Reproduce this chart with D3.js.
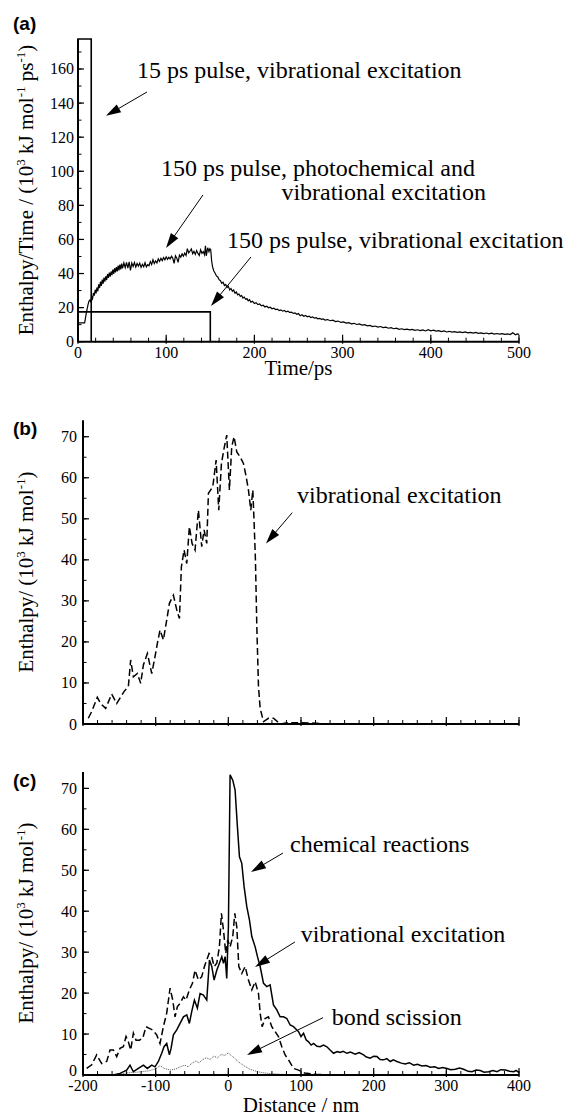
<!DOCTYPE html>
<html>
<head>
<meta charset="utf-8">
<script src="https://cdn.jsdelivr.net/npm/d3@7"></script>
<style>
  body { margin: 0; background: #fff; }
  text { font-family: "Liberation Serif", "Times New Roman", serif; fill: #000; }
</style>
</head>
<body>
<div id="root"></div>
<script>
// ---- DATA ----
// (a) enthalpy deposition rate vs time, 10^3 kJ mol^-1 ps^-1
const pulse15 = [[0, 0], [0, 180], [15, 180], [15, 0]];
const pulse150 = [[0, 17.5], [150, 17.5], [150, 0]];
const photoVib = [[0,11.1],[7.5,11.1],[8.5,14],[9.5,17],[10.5,19.5],[11.5,22],[12.5,23.8],[13.5,24.4],[14.5,23.5],[15.5,26.5],[16.5,25.2],[17.5,28.6],[18.5,27],[19.5,30.5],[20.5,28.4],[21.5,31.8],[22.5,29.6],[23.5,33.6],[24.5,31.5],[25.5,35.2],[26.5,32.8],[27.5,36.4],[28.5,34.1],[29.5,37.6],[30.5,35.3],[31.5,38.4],[32.5,36.2],[33.5,39.6],[34.5,37.4],[35.5,40.5],[36.5,38.2],[37.5,41.2],[38.5,39.1],[39.5,42.3],[40.5,39.8],[41.5,43.1],[42.5,40.6],[43.5,43.8],[44.5,41.2],[45.5,44.6],[46.5,41.8],[47.5,45.2],[48.5,42.4],[49.5,45.8],[50.5,43.0],[52,46.2],[53.5,43.4],[55,46.6],[56.5,43.1],[58,46.9],[59.5,41.9],[61,46.2],[62.5,44.1],[64,46.5],[65.5,43.8],[67,45.9],[68.5,44.4],[70,46.1],[71.5,43.6],[73,45.4],[74.5,44.0],[76,46.3],[77.5,43.9],[79,45.2],[80.5,44.6],[82,47.0],[83.5,45.3],[85,48.1],[86.5,45.9],[88,47.4],[89.5,46.2],[91,48.6],[92.5,47.1],[94,48.9],[95.5,47.6],[97,49.4],[98.5,48.0],[100,49.8],[101.5,48.3],[103,49.5],[104.5,48.6],[106,50.1],[107.5,48.9],[109,46.0],[110.5,50.4],[112,49.0],[113.5,46.5],[115,50.8],[116.5,49.6],[118,51.5],[119.5,50.2],[121,52.0],[122.5,50.6],[124,54.6],[125.5,52.1],[127,53.2],[128.5,54.4],[130,51.6],[131.5,53.0],[133,51.2],[134.5,53.5],[136,51.8],[137.5,50.6],[139,53.9],[140.5,51.9],[142,52.8],[143.5,51.0],[144.5,56.2],[145.5,50.4],[147,55.1],[148.5,52.8],[149.5,54.6],[150.5,54.0],[151.5,47.5],[152.5,44.0],[154,41.5],[155.5,40.2],[157,38.6],[158.5,38.0],[160,36.4],[161.5,35.8],[163,34.3],[164.5,34.9],[166,33.0],[167.5,33.6],[169,31.8],[170.5,32.5],[172,30.4],[173.5,31.2],[175,29.6],[176.5,30.3],[178,28.4],[179.5,29.1],[181,27.5],[182.5,28.0],[184,26.6],[185.5,27.1],[187,25.6],[188.5,26.2],[190,24.9],[191.5,25.3],[193,24.0],[194.5,24.6],[196,23.2],[198,23.7],[200,22.4],[202,22.9],[204,21.8],[206,22.1],[208,21.0],[210,21.4],[212,20.4],[214,20.8],[216,19.9],[218,20.2],[220,19.3],[222,19.7],[224,18.9],[226,19.1],[228,18.3],[230,18.7],[232,17.9],[234,18.3],[236,17.5],[238,17.9],[240,17.2],[242,17.4],[244,16.6],[246,16.9],[248,16.1],[250,16.5],[252,15.2],[254,15.8],[256,14.9],[258,15.4],[260,14.6],[262,15.0],[264,14.2],[266,14.5],[268,13.9],[270,14.1],[272,13.4],[274,13.7],[276,13.1],[278,13.4],[280,12.7],[283,13.0],[286,12.3],[289,12.6],[292,11.8],[295,12.1],[298,11.3],[301,11.6],[304,10.9],[307,11.2],[310,10.5],[313,10.8],[316,10.1],[319,10.4],[322,9.7],[325,10.0],[328,9.3],[331,9.6],[334,8.9],[337,9.2],[340,8.6],[343,8.9],[346,8.3],[349,8.5],[352,7.9],[355,8.2],[358,7.6],[361,7.9],[364,7.3],[367,7.6],[370,7.1],[373,7.4],[376,6.9],[379,7.2],[382,6.7],[385,7.0],[388,6.5],[391,6.9],[394,6.3],[397,7.1],[400,6.4],[403,6.8],[406,6.2],[409,6.5],[412,5.9],[415,6.3],[418,5.7],[421,6.1],[424,5.6],[427,5.9],[430,5.5],[433,5.8],[436,5.3],[439,5.7],[442,5.2],[445,5.5],[448,5.0],[451,5.4],[454,4.9],[457,5.2],[460,4.8],[463,5.1],[466,4.6],[469,5.0],[472,4.5],[475,4.8],[478,4.4],[481,4.7],[484,4.3],[487,4.6],[490,4.2],[493,5.3],[496,4.1],[498,4.6],[500,4.3]];

// (b) enthalpy vs distance, vibrational excitation only
const vibB = [[-192.7,1.4],[-188.1,3.0],[-180.3,6.5],[-175.7,5.0],[-168.8,3.8],[-160.5,7.3],[-153.6,5.0],[-143.6,7.9],[-137.6,9.1],[-134.4,15.6],[-130.7,11.5],[-125.2,12.3],[-120.6,9.9],[-116.9,14.4],[-111.4,17.2],[-105.4,12.3],[-100.9,16.4],[-97.6,19.7],[-94,22.9],[-89.4,20.5],[-84.8,25.3],[-81.1,29.4],[-75.6,31.4],[-71,27.8],[-67.3,25.7],[-64.6,38.3],[-60.9,42.4],[-57.2,39.1],[-53.6,48.1],[-49.9,44],[-45.8,42.4],[-41.2,52.1],[-36.6,43.2],[-33.4,47.3],[-29.7,44],[-27.4,56.2],[-21.4,57.8],[-16.8,64.3],[-13.2,52.1],[-9.5,63.5],[-5.8,67.2],[-2.2,70.4],[1.5,57],[4.7,67.6],[7.9,70],[11.6,66.3],[16.2,65.1],[20.8,63.5],[24.5,60.3],[27.7,57],[30.9,52.1],[33.7,57],[35.5,48.9],[37.3,40],[39.2,23.7],[41.5,9.1],[43.8,3.8],[48.4,0.6],[55.2,1.4],[62.1,1.4],[71.3,0],[80.5,0.3],[98.8,0.3],[121.8,0.2],[135.6,0]];

// (c) enthalpy vs distance by channel
const chemC = [[-200,0],[-158.2,0],[-149.1,0.4],[-139.9,1.2],[-135.3,2.4],[-130.7,0.8],[-123.8,1.6],[-116.9,2.4],[-111.4,1.6],[-105.4,2.4],[-100.9,2.0],[-96.3,3.3],[-91.7,5.3],[-88.5,6.9],[-84.8,7.7],[-81.1,4.9],[-78.8,6.5],[-75.6,9.8],[-71,11],[-66.4,12.6],[-61.8,14.2],[-57.2,14.7],[-53.6,12.6],[-50.4,15.5],[-46.7,18.3],[-42.6,16.3],[-38.9,19.9],[-34.3,19.5],[-29.7,18.3],[-26,28.1],[-22.8,26.5],[-19.6,23.2],[-15.9,25.6],[-12.3,27.3],[-9,28.9],[-6.7,27.3],[-4.4,28.9],[-2.2,23.6],[0.1,36.2],[2.4,73.3],[6.1,72],[9.3,69.6],[12.5,60.6],[15.3,53.3],[18.5,51.7],[21.7,46],[25.4,41.1],[29.1,37.8],[32.3,33.8],[36.9,31.3],[40.1,28.9],[43.8,26.5],[48.4,22.4],[52.9,21.6],[57.5,22],[62.1,17.1],[66.7,15.9],[71.3,14.2],[75.9,14.2],[80.5,13.8],[85.1,12.2],[89.7,11.8],[94.3,11],[96.6,10.6],[100,9.4],[103.5,10.2],[107,8.6],[110.4,8.1],[114,7.3],[117.3,7.7],[122,7.0],[126.4,6.9],[131,7.3],[135.6,6.9],[140,6.1],[144.8,5.3],[150,5.7],[154,5.5],[158,5.8],[163.2,5.3],[168,5.6],[174.6,5.1],[180,5.5],[186.1,4.9],[190,4.4],[195.3,4.1],[200,4.6],[204.5,4.5],[209,3.8],[213.7,3.7],[218,4.0],[222.9,3.3],[227,3.7],[232,3.3],[238,2.9],[243.5,2.7],[249,3.0],[255,2.4],[260,2.6],[266.5,2.2],[272,2.3],[278,1.9],[284,2.0],[289.4,1.6],[295,1.8],[300.9,1.6],[306,1.3],[312.4,1.4],[318,1.7],[323.9,1.4],[330,0.9],[335.3,0.8],[341,1.2],[346.8,1.1],[352,0.7],[358.3,0.8],[364,1.1],[369.8,0.8],[375,1.3],[381.3,1.2],[387,0.9],[392.7,0.8],[396,1.1],[400,0.6]];
const vibC = [[-195,1.6],[-188,2.5],[-181.2,4.9],[-174.3,2.8],[-167.4,3.3],[-162.8,6.1],[-158.2,6.1],[-153.6,4.5],[-149.1,6.5],[-144.5,6.9],[-140.8,9.4],[-137.6,8.1],[-134.4,6.1],[-130.7,10.2],[-127,8.5],[-122.4,8.5],[-117.8,9.0],[-113.3,11.8],[-108.7,11.4],[-104.1,11],[-98.6,9.8],[-94,7.7],[-89.4,11.8],[-84.8,15.1],[-80.2,21.2],[-76.5,18.3],[-73.3,14.2],[-70.1,16.7],[-66.4,17.5],[-61.8,19.1],[-58.2,18.3],[-53.6,20.8],[-49.4,22.4],[-45.8,25.6],[-41.2,23.2],[-36.6,24],[-32.9,26.5],[-29.7,28.1],[-26.5,29.7],[-22.8,28.9],[-19.6,26.5],[-15.9,27.3],[-12.3,31.3],[-9.5,39.5],[-6.7,35.4],[-3.5,29.7],[-0.8,33],[2.4,31.3],[6.1,33.8],[8.9,39.5],[11.6,36.2],[14.4,26.5],[18.5,24.8],[23.1,26.5],[27.7,23.2],[32.3,20.8],[36.9,22.8],[41.5,19.9],[43.8,15.1],[46.5,11.8],[50.6,13.8],[55.2,14.2],[59.8,11.8],[64.4,10.6],[69,9.4],[73.6,6.9],[78.2,4.9],[82.8,3.7],[89.7,1.6],[96.6,1.2],[105,0.5],[120,0.2],[140,0]];
const bondC = [[-170,0],[-150,0.2],[-140,0.5],[-125,0.7],[-110,1.0],[-100,1.5],[-94,2.3],[-88,1.6],[-80,1.2],[-72,1.5],[-66,2.0],[-60,2.4],[-55,2.0],[-50,2.9],[-45,3.4],[-40,3.0],[-35,3.8],[-30,4.2],[-25,3.8],[-20,4.6],[-15,4.2],[-10,5.0],[-5,4.8],[0,5.4],[3,4.9],[8,4.2],[14,3.2],[22,2.2],[30,1.4],[40,0.8],[50,0.5],[60,0.3],[75,0.15],[90,0.1],[110,0]];

// tick labels
const timeTicks = [0, 100, 200, 300, 400, 500];
const rateTicks = [0, 20, 40, 60, 80, 100, 120, 140, 160];
const distTicks = [-200, -100, 0, 100, 200, 300, 400];
const enthTicks = [0, 10, 20, 30, 40, 50, 60, 70];

// ---- DRAWING ----
const svg = d3.select('#root').append('svg').attr('width', 573).attr('height', 1116);

// the 15 ps pulse runs off the top, so the scale is clamped at the frame
const xA = d3.scaleLinear().domain([0, 500]).range([78, 519]);
const yA = d3.scaleLinear().domain([0, 177.6]).range([341.7, 39]).clamp(true);
const xB = d3.scaleLinear().domain([-200, 400]).range([83, 519]);
const yB = d3.scaleLinear().domain([0, 74]).range([724, 420.3]);
const xC = d3.scaleLinear().domain([-200, 400]).range([83, 519]);
const yC = d3.scaleLinear().domain([0, 74]).range([1075, 772]);

function drawAxes(x, y, o) {
  const g = svg.append('g');
  const y0 = y(0), x0 = x.range()[0];
  o.xMinor.forEach(v => g.append('line').attr('x1', x(v)).attr('x2', x(v))
    .attr('y1', y0 + 1).attr('y2', y0 - 4).attr('stroke', '#000').attr('stroke-width', 1));
  o.xMajor.forEach(v => g.append('line').attr('x1', x(v)).attr('x2', x(v))
    .attr('y1', y0 + 2).attr('y2', y0 - 7).attr('stroke', '#000').attr('stroke-width', 1.2));
  o.yMinor.forEach(v => g.append('line').attr('x1', x0).attr('x2', x0 + 3.5)
    .attr('y1', y(v)).attr('y2', y(v)).attr('stroke', '#000').attr('stroke-width', 1));
  o.yMajor.forEach(v => g.append('line').attr('x1', x0).attr('x2', x0 + 6)
    .attr('y1', y(v)).attr('y2', y(v)).attr('stroke', '#000').attr('stroke-width', 1.2));
  g.append('line').attr('x1', x0).attr('x2', x.range()[1]).attr('y1', y0).attr('y2', y0)
    .attr('stroke', '#000').attr('stroke-width', 2);
  g.append('line').attr('x1', x0).attr('x2', x0).attr('y1', y0).attr('y2', y.range()[1])
    .attr('stroke', '#000').attr('stroke-width', 2);
  if (o.xLabels) {
    g.selectAll(null).data(o.xMajor).enter().append('text')
      .attr('x', d => x(d)).attr('y', y0 + 16).attr('text-anchor', 'middle')
      .style('font-size', '16px').text(d => d);
  }
  g.selectAll(null).data(o.yMajor).enter().append('text')
    .attr('x', x0 - o.yPad).attr('y', d => y(d) + 5.5 - (d === 0 ? o.zeroLift : 0))
    .attr('text-anchor', 'end')
    .style('font-size', '16px').text(d => d);
}

function yTitle(cx, cy, parts) {
  const t = svg.append('text').attr('transform', `translate(${cx},${cy}) rotate(-90)`)
    .attr('text-anchor', 'middle').style('font-size', '21px');
  let up = false;
  parts.forEach(p => {
    const sup = p[1] === 1;
    const s = t.append('tspan').text(p[0]);
    if (sup) { s.attr('dy', -8).style('font-size', '13px'); up = true; }
    else if (up) { s.attr('dy', 8); up = false; }
  });
}

function panelTag(x, y, s) {
  svg.append('text').attr('x', x).attr('y', y).text(s)
    .style('font-family', '"Liberation Sans", Arial, sans-serif')
    .style('font-weight', 'bold').style('font-size', '19px');
}

function arrow(x, y, from, to) {
  const x1 = x(from[0]), y1 = y(from[1]), x2 = x(to[0]), y2 = y(to[1]);
  const dx = x2 - x1, dy = y2 - y1, L = Math.hypot(dx, dy);
  const ux = dx / L, uy = dy / L, hl = 15, hw = 4.5;
  const bx = x2 - ux * hl, by = y2 - uy * hl;
  svg.append('line').attr('x1', x1).attr('y1', y1).attr('x2', bx + ux * 2).attr('y2', by + uy * 2)
    .attr('stroke', '#000').attr('stroke-width', 1);
  svg.append('path')
    .attr('d', `M${x2},${y2}L${bx - uy * hw},${by + ux * hw}L${bx + uy * hw},${by - ux * hw}Z`)
    .attr('fill', '#000');
}

function label(x, y, pos, s, anchor) {
  svg.append('text').attr('x', x(pos[0])).attr('y', y(pos[1]))
    .attr('text-anchor', anchor || 'start').style('font-size', '24px').text(s);
}

// ---------- (a) ----------
const lineA = d3.line().x(d => xA(d[0])).y(d => yA(d[1]));
svg.append('path').attr('d', lineA(pulse15)).attr('fill', 'none').attr('stroke', '#000').attr('stroke-width', 1.6);
svg.append('path').attr('d', lineA(pulse150)).attr('fill', 'none').attr('stroke', '#000').attr('stroke-width', 1.6);
svg.append('path').attr('d', lineA(photoVib)).attr('fill', 'none').attr('stroke', '#000').attr('stroke-width', 1.2);

drawAxes(xA, yA, {
  xMajor: timeTicks, xMinor: d3.range(0, 501, 20),
  yMajor: rateTicks, yMinor: d3.range(0, 171, 10),
  xLabels: true, yPad: 4, zeroLift: 0
});
svg.append('text').attr('x', xA(250)).attr('y', 375).attr('text-anchor', 'middle')
  .style('font-size', '21px').text('Time/ps');
yTitle(33, 190, [['Enthalpy/Time / (10', 0], ['3', 1], [' kJ mol', 0], ['-1', 1], [' ps', 0], ['-1', 1], [')', 0]]);
panelTag(13, 30, '(a)');

label(xA, yA, [66.9, 154.7], '15 ps pulse, vibrational excitation');
arrow(xA, yA, [78.2, 146.5], [31.7, 132.5]);
label(xA, yA, [94.1, 97.4], '150 ps pulse, photochemical and');
label(xA, yA, [462.6, 83.2], 'vibrational excitation', 'end');
arrow(xA, yA, [141.7, 86.1], [99.8, 55.0]);
label(xA, yA, [168.9, 55.0], '150 ps pulse, vibrational excitation');
arrow(xA, yA, [196.1, 49.7], [150.8, 21.0]);

// ---------- (b) ----------
const lineB = d3.line().x(d => xB(d[0])).y(d => yB(d[1]));
svg.append('path').attr('d', lineB(vibB)).attr('fill', 'none').attr('stroke', '#000')
  .attr('stroke-width', 1.5).attr('stroke-dasharray', '7,3.5');
drawAxes(xB, yB, {
  xMajor: distTicks, xMinor: d3.range(-200, 401, 20),
  yMajor: enthTicks, yMinor: d3.range(0, 71, 5),
  xLabels: false, yPad: 6, zeroLift: 0
});
yTitle(33, 572, [['Enthalpy/ (10', 0], ['3', 1], [' kJ mol', 0], ['-1', 1], [')', 0]]);
panelTag(13, 435, '(b)');
label(xB, yB, [94.5, 53.8], 'vibrational excitation');
arrow(xB, yB, [88, 51.5], [51.8, 44.0]);

// ---------- (c) ----------
const lineC = d3.line().x(d => xC(d[0])).y(d => yC(d[1]));
svg.append('path').attr('d', lineC(bondC)).attr('fill', 'none').attr('stroke', '#555')
  .attr('stroke-width', 1).attr('stroke-dasharray', '1,1');
svg.append('path').attr('d', lineC(vibC)).attr('fill', 'none').attr('stroke', '#000')
  .attr('stroke-width', 1.5).attr('stroke-dasharray', '7,3.5');
svg.append('path').attr('d', lineC(chemC)).attr('fill', 'none').attr('stroke', '#000')
  .attr('stroke-width', 1.5);
drawAxes(xC, yC, {
  xMajor: distTicks, xMinor: d3.range(-200, 401, 20),
  yMajor: enthTicks, yMinor: d3.range(0, 71, 5),
  xLabels: true, yPad: 6, zeroLift: 5
});
svg.append('text').attr('x', xC(100)).attr('y', 1112).attr('text-anchor', 'middle')
  .style('font-size', '21px').text('Distance / nm');
yTitle(33, 923, [['Enthalpy/ (10', 0], ['3', 1], [' kJ mol', 0], ['-1', 1], [')', 0]]);
panelTag(13, 787, '(c)');
label(xC, yC, [84.9, 54.5], 'chemical reactions');
arrow(xC, yC, [75.2, 54.2], [31.2, 49.6]);
label(xC, yC, [99.6, 32.5], 'vibrational excitation');
arrow(xC, yC, [91.7, 32.5], [36.7, 26.4]);
label(xC, yC, [142.2, 12.2], 'bond scission');
arrow(xC, yC, [130.3, 14.0], [25.7, 4.9]);
</script>
</body>
</html>
